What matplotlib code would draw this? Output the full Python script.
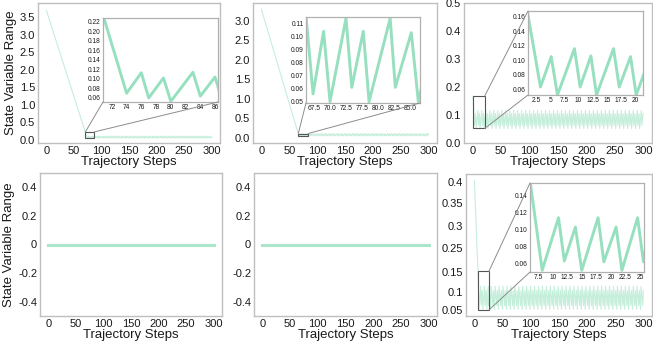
import numpy as np
import matplotlib
matplotlib.use("Agg")
import matplotlib.pyplot as plt
from matplotlib.patches import Rectangle, ConnectionPatch
from matplotlib.ticker import FormatStrFormatter, FixedLocator, FixedFormatter

plt.rcParams['font.family'] = ['Liberation Sans', 'DejaVu Sans']

# ---------------- data ----------------
# vertices read from the main plots and the zoomed insets
p1_x = [0, 71, 74, 76, 77, 79, 80, 83, 84, 86]
p1_y = [3.70, 0.224, 0.070, 0.113, 0.060, 0.102, 0.053, 0.114, 0.064, 0.104]
p1_cycle_y = [0.053, 0.114, 0.064, 0.103]
p1_tail_start = 87

p2_x = [0, 66.3, 67.35, 69.0, 70.0, 72.5, 73.4, 75.2, 76.1, 79.4, 80.2, 82.7, 83.8]
p2_y = [3.30, 0.113, 0.056, 0.104, 0.050, 0.114, 0.061, 0.104, 0.050, 0.114, 0.061, 0.103, 0.050]
p2_cycle_y = [0.114, 0.061, 0.104, 0.050]
p2_tail_start = 86.8

p3_x = [1.0, 3.3, 5.2, 6.3, 9.3, 10.3, 12.2, 13.2, 16.2, 17.2, 19.2, 20.2]
p3_y = [0.167, 0.063, 0.105, 0.052, 0.116, 0.063, 0.106, 0.052, 0.116, 0.063, 0.105, 0.052]
p3_cycle_y = [0.116, 0.063, 0.105, 0.052]
p3_tail_start = 23.2

p4_x = [0, 300]
p4_y = [0.0, 0.0]
p5_x = [0, 300]
p5_y = [0.0, 0.0]

p6_x = [0, 6.2, 8.2, 11.0, 12.0, 13.9, 15.0, 17.8, 18.8, 20.9, 21.9, 24.6]
p6_y = [0.400, 0.153, 0.052, 0.114, 0.063, 0.103, 0.052, 0.114, 0.062, 0.103, 0.052, 0.114]
p6_cycle_y = [0.062, 0.103, 0.052, 0.114]
p6_tail_start = 25.6

# one 7-step cycle of the steady sawtooth: peak, trough, peak, trough offsets
cycle_dx = [0, 1, 3, 4]
cycle_len = 7
n_steps = 300

# tick labels as printed in the reference (some tick label sets skip a value)
p2_inset_xlabels = ['67.5', '70.0', '72.5', '77.5', '80.0', '82.5', '85.0']
p6_ylabels = ['0.05', '0.1', '0.15', '0.25', '0.3', '0.35', '0.4']

xlabel = "Trajectory Steps"
ylabel = "State Variable Range"


def with_tail(xs, ys, cyc_y, start):
    xs = list(xs)
    ys = list(ys)
    base = start
    while base <= n_steps:
        for d, v in zip(cycle_dx, cyc_y):
            if base + d <= n_steps:
                xs.append(base + d)
                ys.append(v)
        base += cycle_len
    return np.array(xs), np.array(ys)


d1 = with_tail(p1_x, p1_y, p1_cycle_y, p1_tail_start)
d2 = with_tail(p2_x, p2_y, p2_cycle_y, p2_tail_start)
d3 = with_tail(p3_x, p3_y, p3_cycle_y, p3_tail_start)
d6 = with_tail(p6_x, p6_y, p6_cycle_y, p6_tail_start)

# ---------------- style ----------------
W, H = 653, 348
fig = plt.figure(figsize=(W / 100, H / 100), dpi=100)

LINE = '#96e0bf'
SPINE = '#bfbfbf'
TXT = '#1a1a1a'


def px_axes(x0, y0, x1, y1):
    return fig.add_axes([x0 / W, (H - y1) / H, (x1 - x0) / W, (y1 - y0) / H])


def style(ax, fs=8):
    for s in ax.spines.values():
        s.set_color(SPINE)
        s.set_linewidth(1.0)
    ax.tick_params(length=0, labelsize=fs, colors=TXT, pad=2)


def main_axes(rect, data, ylim, yticks, yfmt, ylab=False, lw=0.8, alpha=0.55):
    ax = px_axes(*rect)
    style(ax)
    ax.plot(data[0], data[1], color=LINE, lw=lw, alpha=alpha)
    ax.set_xlim(-15, 315)
    ax.set_xticks([0, 50, 100, 150, 200, 250, 300])
    ax.set_ylim(*ylim)
    ax.yaxis.set_major_locator(FixedLocator(yticks))
    ax.yaxis.set_major_formatter(yfmt)
    ax.set_xlabel(xlabel, fontsize=9.5, color=TXT, labelpad=0)
    if ylab:
        ax.set_ylabel(ylabel, fontsize=9.5, color=TXT, labelpad=2)
    return ax


def inset(ax, rect, data, xlim, ylim, xticks, xlabels, yticks, corners):
    ins = px_axes(*rect)
    for s in ins.spines.values():
        s.set_color('#b0b0b0')
        s.set_linewidth(0.9)
    ins.tick_params(length=0, labelsize=4.8, colors=TXT, pad=1.5)
    ins.plot(data[0], data[1], color=LINE, lw=2.1)
    ins.set_xlim(*xlim)
    ins.set_ylim(*ylim)
    ins.xaxis.set_major_locator(FixedLocator(xticks))
    ins.xaxis.set_major_formatter(FixedFormatter(xlabels))
    ins.set_yticks(yticks)
    ins.yaxis.set_major_formatter(FormatStrFormatter('%.2f'))
    ax.add_patch(Rectangle((xlim[0], ylim[0]), xlim[1] - xlim[0], ylim[1] - ylim[0],
                           fill=False, ec='#555555', lw=0.8, zorder=5))
    for (cr, ci) in corners:
        xa = xlim[0] if cr[0] == 0 else xlim[1]
        ya = ylim[0] if cr[1] == 0 else ylim[1]
        con = ConnectionPatch(xyA=(xa, ya), coordsA=ax.transData,
                              xyB=ci, coordsB=ins.transAxes,
                              color='#8c8c8c', lw=0.7, zorder=6)
        fig.add_artist(con)
    return ins


gfmt = plt.FuncFormatter(lambda v, p: f"{round(v, 3):g}")

# panel 1
ax1 = main_axes((38, 3, 220, 143), d1, (-0.085, 3.9), np.arange(0, 3.51, 0.5),
                FormatStrFormatter('%.1f'), ylab=True)
inset(ax1, (103, 18, 218, 102), d1, (70.8, 86.4), (0.0516, 0.228),
      list(range(72, 87, 2)), [str(v) for v in range(72, 87, 2)],
      np.arange(0.06, 0.221, 0.02), corners=[((0, 1), (0, 0)), ((1, 1), (1, 0))])

# panel 2
ax2 = main_axes((253, 3, 437, 143), d2, (-0.128, 3.46), np.arange(0, 3.01, 0.5),
                FormatStrFormatter('%.1f'))
inset(ax2, (306, 17, 420, 103), d2, (66.25, 84.06), (0.049, 0.115),
      [67.5, 70, 72.5, 75, 77.5, 80, 82.5], p2_inset_xlabels,
      np.arange(0.05, 0.111, 0.01), corners=[((0, 1), (0, 0)), ((1, 1), (1, 0))])

# panel 3
ax3 = main_axes((464, 3, 652, 143), d3, (0, 0.5), np.arange(0, 0.51, 0.1),
                FormatStrFormatter('%.1f'))
inset(ax3, (528, 11, 643, 95), d3, (1.1, 21.4), (0.052, 0.168),
      [2.5, 5, 7.5, 10, 12.5, 15, 17.5, 20],
      ['2.5', '5', '7.5', '10', '12.5', '15', '17.5', '20'],
      np.arange(0.06, 0.161, 0.02), corners=[((1, 1), (0, 1)), ((1, 0), (0, 0))])

# panel 4
main_axes((40, 173, 222, 316), (np.array(p4_x), np.array(p4_y)), (-0.5, 0.5),
          [-0.4, -0.2, 0, 0.2, 0.4], gfmt, ylab=True, lw=2.2, alpha=0.8)

# panel 5
main_axes((254, 173, 437, 316), (np.array(p5_x), np.array(p5_y)), (-0.5, 0.5),
          [-0.4, -0.2, 0, 0.2, 0.4], gfmt, lw=2.2, alpha=0.8)

# panel 6: tick positions as drawn in the reference
p6_ytick_pos = [0.050, 0.0988, 0.153, 0.218, 0.2776, 0.340, 0.397]
ax6 = main_axes((466, 174, 652, 316), d6, (0.0337, 0.4186),
                p6_ytick_pos, FixedFormatter(p6_ylabels))
inset(ax6, (530, 183, 644, 272), d6, (6.1, 25.7), (0.05, 0.155),
      [7.5, 10, 12.5, 15, 17.5, 20, 22.5, 25],
      ['7.5', '10', '12.5', '15', '17.5', '20', '22.5', '25'],
      np.arange(0.06, 0.141, 0.02), corners=[((1, 1), (0, 1)), ((1, 0), (0, 0))])

fig.savefig('out.png', dpi=100)
